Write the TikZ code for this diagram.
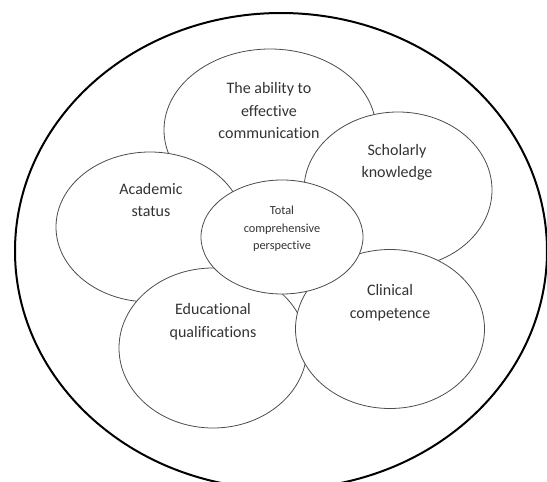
\documentclass[tikz,border=0pt]{standalone}
\usepackage{fontspec}
\setmainfont[Ligatures=NoCommon]{Carlito}
\usetikzlibrary{shapes.geometric}
\begin{document}
\begin{tikzpicture}[x=1pt,y=-1pt,
	ring/.style={ellipse, draw=black!70, line width=.8pt, fill=white, inner sep=0pt},
	ringtext/.style={align=center, text=black!80, inner sep=0pt, font=\fontsize{16}{22.5}\selectfont},
	coretext/.style={align=center, text=black!80, inner sep=0pt, font=\fontsize{12.3}{17.5}\selectfont}]
	\useasboundingbox (0,0) rectangle (547,482);
	\clip (0,0) rectangle (547,482);
	% outer boundary
	\node[ellipse, draw, line width=2pt, minimum width=532pt, minimum height=476pt] (whole) at (281,251) {};
	% the five rings, back to front
	\node[ring, minimum width=212pt, minimum height=162pt] (commun) at (270,130) {};
	\node[ring, minimum width=188pt, minimum height=156pt] (scholar) at (398,190) {};
	\node[ring, minimum width=188pt, minimum height=150pt] (academic) at (150,227) {};
	\node[ring, minimum width=188pt, minimum height=160pt] (edu) at (213,348) {};
	\node[ring, minimum width=189pt, minimum height=159pt] (clinic) at (390,329) {};
	\node[ring, minimum width=162pt, minimum height=114pt] (core) at (282,237) {};
	% labels
	\node[ringtext] (commun-t) at (269,111) {The ability to\\effective\\communication};
	\node[ringtext] (scholar-t) at (397,162.5) {Scholarly\\knowledge};
	\node[ringtext] (academic-t) at (151,200) {Academic\\status};
	\node[ringtext] (edu-t) at (213,321.5) {Educational\\qualifications};
	\node[ringtext] (clinic-t) at (390,302.5) {Clinical\\competence};
	\node[coretext] (core-t) at (282,229) {Total\\comprehensive\\perspective};
\end{tikzpicture}
\end{document}
